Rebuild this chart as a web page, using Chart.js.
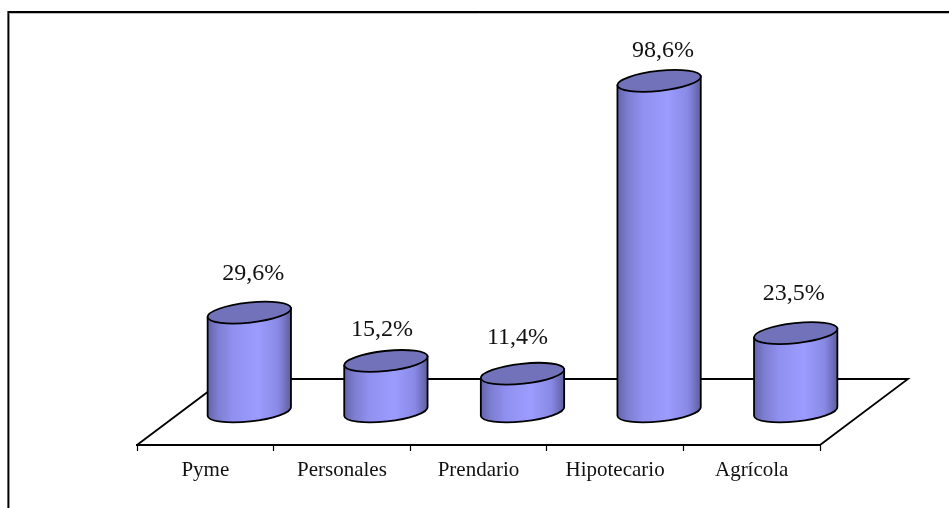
<!DOCTYPE html>
<html>
<head>
<meta charset="utf-8">
<style>
  html, body { margin: 0; padding: 0; background: #fff; overflow: hidden; }
  #wrap { width: 949px; height: 508px; position: relative; }
</style>
<script src="https://cdn.jsdelivr.net/npm/chart.js@4/dist/chart.umd.min.js"></script>
</head>
<body>
<div id="wrap"><canvas id="creditChart" width="949" height="508"></canvas></div>
<script>
const categories = ['Pyme', 'Personales', 'Prendario', 'Hipotecario', 'Agrícola'];
const growth = [29.6, 15.2, 11.4, 98.6, 23.5];

const serif = '"Liberation Serif", "Times New Roman", serif';
const ink = '#000';

// how far the floor recedes, and where the columns stand on it
const depthX = 88, depthY = 66;
const tilt = -0.108, capRy = 10;

// value captions sit a little unevenly above the columns
const captionDx = [4, -4, -5, 4, -2];
const captionDy = [39, 31, 36, 30, 39];

function percent(v) {
  return v.toFixed(1).replace('.', ',') + '%';
}

const floorAndFrame = {
  id: 'floorAndFrame',
  beforeDatasetsDraw(chart) {
    const { ctx, chartArea: a } = chart;
    ctx.save();

    // outer frame, open to the right and below, with its faint inner edge
    ctx.strokeStyle = '#bbb';
    ctx.lineWidth = 1;
    ctx.beginPath();
    ctx.moveTo(9.5, 508);
    ctx.lineTo(9.5, 13.5);
    ctx.lineTo(949, 13.5);
    ctx.stroke();

    ctx.strokeStyle = ink;
    ctx.lineWidth = 1.8;
    ctx.beginPath();
    ctx.moveTo(8.3, 508);
    ctx.lineTo(8.3, 12);
    ctx.lineTo(949, 12);
    ctx.stroke();

    // floor, front edge comes from the x axis
    ctx.lineWidth = 1.8;
    ctx.beginPath();
    ctx.moveTo(a.left, a.bottom);
    ctx.lineTo(a.left + depthX, a.bottom - depthY);
    ctx.lineTo(a.right + depthX, a.bottom - depthY);
    ctx.lineTo(a.right, a.bottom);
    ctx.stroke();
    ctx.restore();
  }
};

const cylinders = {
  id: 'cylinders',
  afterDatasetsDraw(chart) {
    const { ctx } = chart;
    chart.getDatasetMeta(0).data.forEach((bar, i) => {
      const cx = bar.x + depthX / 2;
      const r = bar.width / 2;
      const rx = r / Math.cos(tilt);
      const lift = r * Math.tan(tilt);
      const topY = bar.y - depthY / 2;
      const baseY = bar.base - depthY / 2 - 0.5;

      const shade = ctx.createLinearGradient(cx - r, 0, cx + r, 0);
      shade.addColorStop(0, '#6363aa');
      shade.addColorStop(0.12, '#7d7dd0');
      shade.addColorStop(0.3, '#9090f0');
      shade.addColorStop(0.6, '#9c9cff');
      shade.addColorStop(0.85, '#8888e4');
      shade.addColorStop(1, '#5e5e9e');

      ctx.save();
      ctx.lineWidth = 1.8;
      ctx.strokeStyle = ink;

      // wall and lower rim
      ctx.beginPath();
      ctx.moveTo(cx - r, topY - lift);
      ctx.lineTo(cx - r, baseY - lift);
      ctx.ellipse(cx, baseY, rx, capRy, tilt, Math.PI, 0, true);
      ctx.lineTo(cx + r, topY + lift);
      ctx.closePath();
      ctx.fillStyle = shade;
      ctx.fill();
      ctx.stroke();

      // top cap
      ctx.beginPath();
      ctx.ellipse(cx, topY, rx, capRy, tilt, 0, Math.PI * 2);
      ctx.fillStyle = '#7272ba';
      ctx.fill();
      ctx.stroke();

      ctx.fillStyle = '#111';
      ctx.font = '24px ' + serif;
      ctx.textAlign = 'center';
      ctx.textBaseline = 'middle';
      ctx.fillText(percent(growth[i]), cx + captionDx[i], topY - captionDy[i]);
      ctx.restore();
    });
  }
};

const ctxCredit = document.getElementById('creditChart').getContext('2d');
const creditChart = new Chart(ctxCredit, {
  type: 'bar',
  data: {
    labels: categories,
    datasets: [{
      data: growth,
      backgroundColor: 'rgba(0, 0, 0, 0)',
      borderWidth: 0,
      categoryPercentage: 1,
      barPercentage: 0.61
    }]
  },
  options: {
    responsive: false,
    animation: false,
    layout: { padding: { top: 42, left: 137, right: 129, bottom: 0 } },
    plugins: { legend: { display: false }, tooltip: { enabled: false } },
    scales: {
      x: {
        afterFit(scale) { scale.height = 63; },
        border: { color: ink, width: 2 },
        grid: { color: ink, drawOnChartArea: false, tickLength: 6, tickWidth: 1.2 },
        ticks: { color: '#111', font: { family: serif, size: 21 }, padding: 7, maxRotation: 0 }
      },
      y: { display: false, min: 0, max: 120 }
    }
  },
  plugins: [floorAndFrame, cylinders]
});
</script>
</body>
</html>
